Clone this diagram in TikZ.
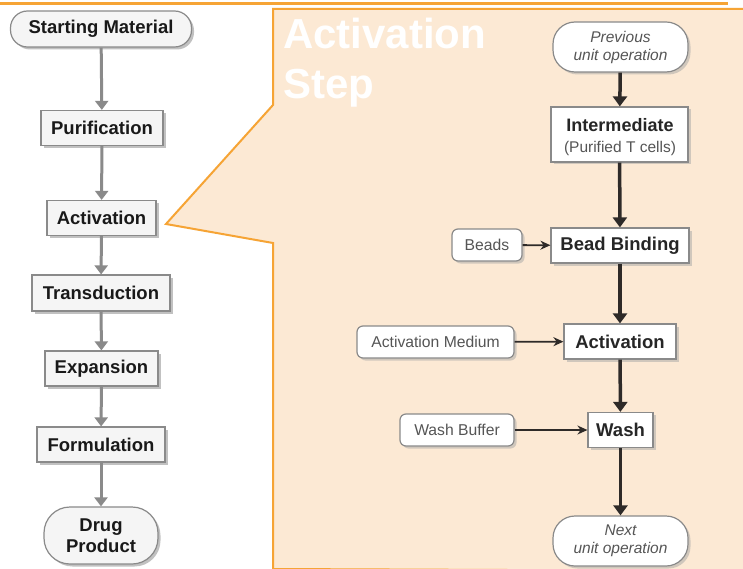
\documentclass[tikz,border=0pt]{standalone}
\usepackage{fontspec}
\setmainfont{Liberation Sans}
\usetikzlibrary{shadows,arrows.meta}
\definecolor{panel}{HTML}{FCE9D4}
\definecolor{orng}{HTML}{F6A435}
\definecolor{lfill}{HTML}{F5F5F5}
\definecolor{lborder}{HTML}{8A8A8A}
\definecolor{darkarr}{HTML}{2E2A28}
\definecolor{subtxt}{HTML}{555555}
\tikzset{
  lbox/.style={draw=lborder, line width=1.2pt, fill=lfill, inner sep=0pt, font=\bfseries\fontsize{18.5}{21}\selectfont, text=black!90,
    drop shadow={shadow xshift=2.5pt, shadow yshift=-2.5pt, fill=black!40, opacity=0.6}},
  lstad/.style={lbox, rounded corners=17pt},
  larr/.style={draw=lborder, line width=3pt, -{Triangle[length=9pt,width=13pt]}},
  rbox/.style={draw=lborder, line width=1.2pt, fill=white, inner sep=0pt, text=black!85,
    drop shadow={shadow xshift=2.5pt, shadow yshift=-2.5pt, fill=black!35, opacity=0.5}},
  inbox/.style={rbox, rounded corners=6pt, font=\fontsize{15.7}{18}\selectfont, text=subtxt},
  rstad/.style={rbox, rounded corners=22pt, font=\itshape\fontsize{15.5}{18}\selectfont, text=subtxt, align=center},
  darr/.style={draw=darkarr, line width=3.5pt, -{Triangle[length=10pt,width=14pt]}},
  harr/.style={draw=darkarr, line width=1.8pt, -{Stealth[length=10pt,width=9pt]}},
  txt/.style={inner sep=0pt, anchor=base},
}
\begin{document}
\begin{tikzpicture}[x=1pt,y=-1pt]
\useasboundingbox (0,0) rectangle (743,569);
\fill[white] (0,0) rectangle (743,569);
% top orange line
\draw[orng, line width=3pt] (0,4) -- (728,4);
% panel
\filldraw[fill=panel, draw=orng, line width=2pt]
  (273,569) -- (273,243) -- (166,224) -- (273,105) -- (273,9) -- (745,9) -- (745,571) -- cycle;
% title
\node[anchor=north west, align=left, text=white, font=\bfseries\fontsize{42}{50}\selectfont, inner sep=0pt] (title) at (283,18) {Activation\\Step};

% left column
\node[lstad, minimum width=181pt, minimum height=36pt] (sm) at (101,29) {Starting Material};
\node[lbox, minimum width=122pt, minimum height=35pt] (pur) at (102,128) {Purification};
\node[lbox, minimum width=109pt, minimum height=35pt] (act) at (101.5,218) {Activation};
\node[lbox, minimum width=138pt, minimum height=36pt] (tra) at (101,293) {Transduction};
\node[lbox, minimum width=113pt, minimum height=35pt] (exp) at (101.5,368.5) {Expansion};
\node[lbox, minimum width=128pt, minimum height=35pt] (for) at (101,444.5) {Formulation};
\node[lbox, rounded corners=26pt, minimum width=114pt, minimum height=57pt, align=center, font=\bfseries\fontsize{18.5}{21}\selectfont] (dp) at (101,535.5) {Drug\\Product};
\draw[larr] (sm) -- (pur);
\draw[larr] (pur) -- (act);
\draw[larr] (act) -- (tra);
\draw[larr] (tra) -- (exp);
\draw[larr] (exp) -- (for);
\draw[larr] (for) -- (dp);

% right column
\node[rstad, minimum width=135pt, minimum height=50pt] (prev) at (620.5,47) {Previous\\unit operation};
\node[rbox, minimum width=137pt, minimum height=55pt] (int) at (619.5,134.5) {};
\node[txt, font=\bfseries\fontsize{18}{20}\selectfont, text=black!85] (intA) at (620,132) {Intermediate};
\node[txt, font=\fontsize{15.5}{17}\selectfont, text=subtxt] (intB) at (620,153) {(Purified T cells)};
\node[rbox, minimum width=138pt, minimum height=35pt, font=\bfseries\fontsize{18.5}{21}\selectfont] (bb) at (620,245.5) {Bead Binding};
\node[inbox, minimum width=70pt, minimum height=32pt] (beads) at (487,245) {Beads};
\node[rbox, minimum width=112pt, minimum height=35pt, font=\bfseries\fontsize{18.5}{21}\selectfont] (ra) at (620,341.5) {Activation};
\node[inbox, minimum width=157pt, minimum height=32pt] (am) at (435.5,342) {Activation Medium};
\node[rbox, minimum width=65pt, minimum height=35pt, font=\bfseries\fontsize{18.5}{21}\selectfont] (wash) at (620.5,430) {Wash};
\node[inbox, minimum width=114pt, minimum height=32pt] (wb) at (457,430) {Wash Buffer};
\node[rstad, minimum width=135pt, minimum height=50pt] (next) at (620.5,541) {Next\\unit operation};

\draw[darr] (prev) -- (int);
\draw[darr] (int) -- (bb);
\draw[darr] (bb) -- (ra);
\draw[darr] (ra) -- (wash);
\draw[darr] (wash) -- (next);
\draw[harr] (beads) -- (bb);
\draw[harr] (am) -- (ra);
\draw[harr] (wb) -- (wash);
\end{tikzpicture}
\end{document}
